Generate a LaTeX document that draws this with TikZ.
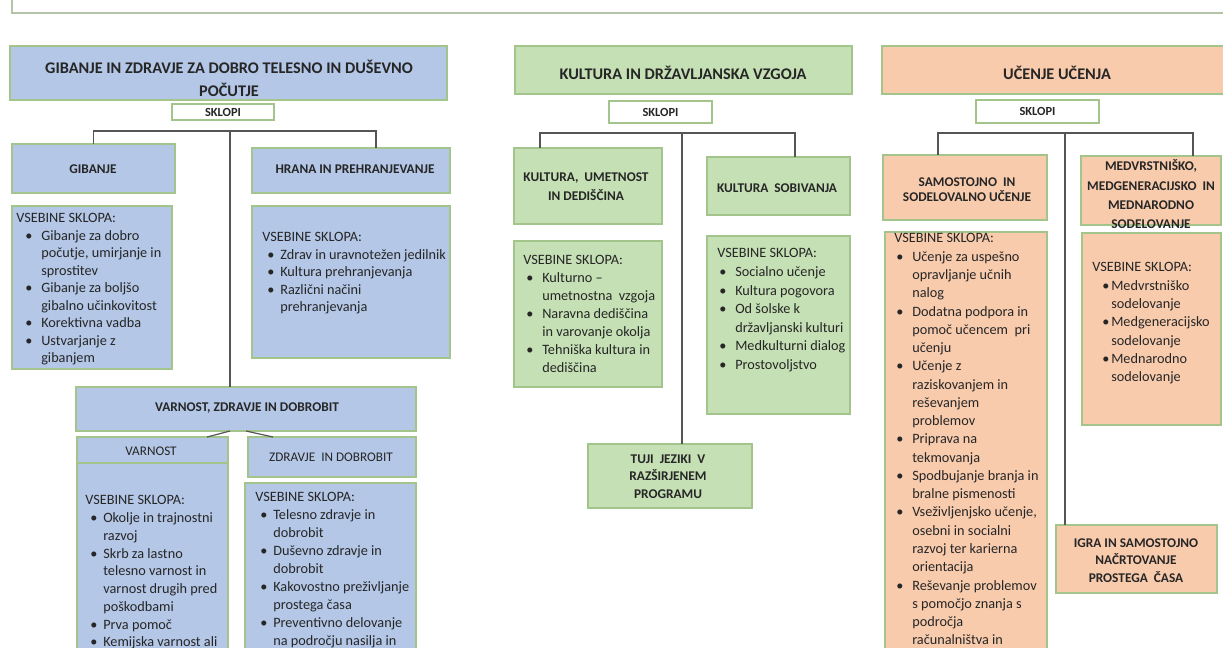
\documentclass[tikz,border=0pt]{standalone}
\usepackage{fontspec}
\setmainfont{Carlito}
\usetikzlibrary{fit,calc}
\definecolor{bfill}{HTML}{B4C7E7}
\definecolor{gfill}{HTML}{C5E0B4}
\definecolor{ofill}{HTML}{F8CBAD}
\definecolor{edgec}{HTML}{A3C48A}
\definecolor{connc}{HTML}{555555}
\definecolor{txtc}{HTML}{262626}
\definecolor{topc}{HTML}{B5C4A6}
\newlength\bulo \newlength\bulw
\setlength\bulo{3.75pt}\setlength\bulw{13.5pt}
\newcommand\bu{\makebox[\bulw][l]{\hspace*{\bulo}\textbullet}}
\newcommand\ct{\hspace*{\bulw}}
\tikzset{
  box/.style={draw=edgec, line width=0.9pt, inner sep=0pt, outer sep=0pt},
  bb/.style={box, fill=bfill}, gb/.style={box, fill=gfill}, ob/.style={box, fill=ofill},
  wb/.style={box, fill=white},
  hdr/.style={font=\fontsize{12.2}{17}\selectfont\bfseries, text=txtc, align=center, inner sep=0pt},
  sub/.style={font=\fontsize{10}{#1}\selectfont\bfseries, text=txtc, align=center, inner sep=0pt},
  sub/.default=13.5,
  subn/.style={font=\fontsize{9.9}{13}\selectfont, text=txtc, align=center, inner sep=0pt},
  skl/.style={font=\fontsize{9.3}{10}\selectfont\bfseries, text=txtc, inner sep=0pt},
  lst/.style={font=\fontsize{10.7}{#1}\selectfont, text=txtc, align=left, anchor=north west, inner sep=0pt},
  lst/.default=13.5,
  bo/.code={\setlength\bulo{#1}},
  bw/.code={\setlength\bulw{#1}},
  link/.style={draw=connc, line width=0.9pt},
}
\begin{document}
\begin{tikzpicture}[x=0.75pt,y=-0.75pt]
\useasboundingbox (0,0) rectangle (1223,647);
\clip (0,0) rectangle (1223,647);
\draw[topc, line width=0.9pt] (12,0) -- (12,13) -- (1223,13);

% ---------------- left column (blue)
\node[bb, fit={(10,46) (447,100)}] (h1) {};
\node[hdr] (h1t) at (229,78.5) {GIBANJE IN ZDRAVJE ZA DOBRO TELESNO IN DUŠEVNO\\POČUTJE};
\node[wb, fit={(172,104) (274,120)}] (sk1) {};
\node[skl] (sk1t) at (sk1.center) {SKLOPI};
\node[bb, fit={(12,144) (175,193)}] (gib) {};
\node[sub] (gibt) at (93,169) {GIBANJE};
\node[bb, fit={(252,148) (450,193)}] (hrana) {};
\node[sub] (hranat) at (355,169) {HRANA IN PREHRANJEVANJE};
\node[bb, fit={(12,206) (172,369)}] (gibc) {};
\node[lst=13.1, bo=6.75pt, bw=18.75pt] (gibl) at (16,213.4) {VSEBINE SKLOPA:\\
\bu Gibanje za dobro\\ \ct počutje, umirjanje in\\ \ct sprostitev\\
\bu Gibanje za boljšo\\ \ct gibalno učinkovitost\\
\bu Korektivna vadba\\
\bu Ustvarjanje z\\ \ct gibanjem};
\node[bb, fit={(252,206) (450,358)}] (hranac) {};
\node[lst=13.1] (hranal) at (262,232.4) {VSEBINE SKLOPA:\\
\bu Zdrav in uravnotežen jedilnik\\
\bu Kultura prehranjevanja\\
\bu Različni načini\\ \ct prehranjevanja};
\node[bb, fit={(76,387) (416,431)}] (vzd) {};
\node[sub] (vzdt) at (247,408) {VARNOST, ZDRAVJE IN DOBROBIT};
\node[bb, fit={(77,437) (228,463)}] (varnh) {};
\node[subn] (varnht) at (151,451) {VARNOST};
\node[bb, fit={(77,463) (228,662)}] (varnc) {};
\node[lst=13.3] (varnl) at (85,495.4) {VSEBINE SKLOPA:\\
\bu Okolje in trajnostni\\ \ct razvoj\\
\bu Skrb za lastno\\ \ct telesno varnost in\\ \ct varnost drugih pred\\ \ct poškodbami\\
\bu Prva pomoč\\
\bu Kemijska varnost ali};
\node[bb, fit={(248,437) (416,477)}] (zdh) {};
\node[subn] (zdht) at (331,457) {ZDRAVJE \ IN DOBROBIT};
\node[bb, fit={(245,483) (416,662)}] (zdc) {};
\node[lst=13.5] (zdl) at (255,492.4) {VSEBINE SKLOPA:\\
\bu Telesno zdravje in\\ \ct dobrobit\\
\bu Duševno zdravje in\\ \ct dobrobit\\
\bu Kakovostno preživljanje\\ \ct prostega časa\\
\bu Preventivno delovanje\\ \ct na področju nasilja in};

\coordinate (j1) at (230,131);
\coordinate (hr) at ([xshift=18.75pt]hrana.north);
\draw[link] (gib.north) |- (j1) -| (hr);
\draw[link] (j1) -- (j1 |- vzd.north);
\draw[link] ($(vzd.south)+(-16,0)$) -- ($(varnh.north east)+(-21,0)$);
\draw[link] (vzd.south) -- ($(zdh.north west)+(25,0)$);

% ---------------- middle column (green)
\node[gb, fit={(515,46) (852,94)}] (h2) {};
\node[hdr] (h2t) at (683,73) {KULTURA IN DRŽAVLJANSKA VZGOJA};
\node[wb, fit={(609,101) (712,123)}] (sk2) {};
\node[skl] (sk2t) at (sk2.center) {SKLOPI};
\node[gb, fit={(514,148) (662,224)}] (kum) {};
\node[sub=14.25] (kumt) at (586,186.5) {KULTURA, \ UMETNOST\\IN DEDIŠČINA};
\node[gb, fit={(707,157) (850,215)}] (kso) {};
\node[sub] (ksot) at (777,188) {KULTURA \ SOBIVANJA};
\node[gb, fit={(514,241) (662,387)}] (kumc) {};
\node[lst=13.5, bo=2.25pt, bw=14.25pt] (kuml) at (523,255.4) {VSEBINE SKLOPA:\\
\bu Kulturno --\\ \ct umetnostna \ vzgoja\\
\bu Naravna dediščina\\ \ct in varovanje okolja\\
\bu Tehniška kultura in\\ \ct dediščina};
\node[gb, fit={(707,236) (850,414)}] (ksoc) {};
\node[lst=13.9, bo=1.5pt] (ksol) at (717,248.4) {VSEBINE SKLOPA:\\
\bu Socialno učenje\\
\bu Kultura pogovora\\
\bu Od šolske k\\ \ct državljanski kulturi\\
\bu Medkulturni dialog\\
\bu Prostovoljstvo};
\node[gb, fit={(588,444) (752,508)}] (tuji) {};
\node[sub=13.1] (tujit) at (668,476.5) {TUJI \ JEZIKI \ V\\RAZŠIRJENEM\\PROGRAMU};

\coordinate (j2) at (682,133);
\coordinate (kua) at ([xshift=-36pt]kum.north);
\coordinate (ksa) at ([xshift=12.4pt]kso.north);
\draw[link] (kua) |- (j2) -| (ksa);
\draw[link] (j2) -- (j2 |- tuji.north);

% ---------------- right column (orange)
\node[ob, fit={(882,46) (1232,94)}] (h3) {};
\node[hdr] (h3t) at (1057,73) {UČENJE UČENJA};
\node[wb, fit={(976,100) (1099,123)}] (sk3) {};
\node[skl] (sk3t) at (sk3.center) {SKLOPI};
\node[ob, fit={(883,155) (1047,220)}] (sam) {};
\node[sub=11.5] (samt) at (967,190) {SAMOSTOJNO \ IN\\SODELOVALNO UČENJE};
\node[ob, fit={(1081,156) (1221,225)}] (med) {};
\node[sub=14.5] (medt) at (1151,194.5) {MEDVRSTNIŠKO,\\MEDGENERACIJSKO \ IN\\MEDNARODNO\\SODELOVANJE};
\node[ob, fit={(885,232) (1047,662)}] (samc) {};
\node[lst=13.7, bo=1.5pt] (saml) at (894,233.4) {VSEBINE SKLOPA:\\
\bu Učenje za uspešno\\ \ct opravljanje učnih\\ \ct nalog\\
\bu Dodatna podpora in\\ \ct pomoč učencem \ pri\\ \ct učenju\\
\bu Učenje z\\ \ct raziskovanjem in\\ \ct reševanjem\\ \ct problemov\\
\bu Priprava na\\ \ct tekmovanja\\
\bu Spodbujanje branja in\\ \ct bralne pismenosti\\
\bu Vseživljenjsko učenje,\\ \ct osebni in socialni\\ \ct razvoj ter karierna\\ \ct orientacija\\
\bu Reševanje problemov\\ \ct s pomočjo znanja s\\ \ct področja\\ \ct računalništva in};
\node[ob, fit={(1082,233) (1221,425)}] (medc) {};
\node[lst=13.7, bo=7.5pt, bw=14.25pt] (medl) at (1092,262.4) {VSEBINE SKLOPA:\\
\bu Medvrstniško\\ \ct sodelovanje\\
\bu Medgeneracijsko\\ \ct sodelovanje\\
\bu Mednarodno\\ \ct sodelovanje};
\node[ob, fit={(1056,525) (1217,593)}] (igra) {};
\node[sub=13.1] (igrat) at (1136,560.5) {IGRA IN SAMOSTOJNO\\NAČRTOVANJE\\PROSTEGA \ ČASA};

\coordinate (j3) at (1065,133);
\coordinate (sa) at ([xshift=-20.25pt]sam.north);
\coordinate (ma) at ([xshift=31.5pt]med.north);
\draw[link] (sa) |- (j3) -| (ma);
\draw[link] (j3) -- (j3 |- igra.north);
\end{tikzpicture}
\end{document}
